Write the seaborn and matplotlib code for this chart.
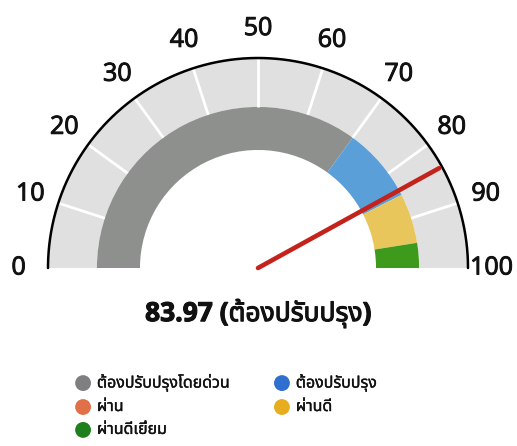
import numpy as np
import pandas as pd
import matplotlib
matplotlib.use("Agg")
import matplotlib.pyplot as plt
import matplotlib.patheffects as pe
import seaborn as sns
from matplotlib import font_manager
from matplotlib.ft2font import FT2Font
from matplotlib.patches import Wedge

# gauge data
value = 83.97
status = "ต้องปรับปรุง"
categories = ["ต้องปรับปรุงโดยด่วน", "ต้องปรับปรุง", "ผ่าน", "ผ่านดี", "ผ่านดีเยี่ยม"]
bounds = [0, 70, 85, 85, 95, 100]
band_colors = ["#8e908e", "#5b9fd9", "#e8774a", "#e9c65c", "#3d9a1c"]
legend_colors = ["#7f7f82", "#2f6fd0", "#e07048", "#e6ae1e", "#1e7f1e"]
tick_values = list(range(0, 101, 10))


def find_thai_font():
    found = []
    for f in font_manager.fontManager.ttflist:
        try:
            if ord("ก") in FT2Font(f.fname).get_charmap():
                found.append(f.name)
        except Exception:
            pass
    for pref in ["Noto Sans Thai", "Noto Sans Thai Looped", "Noto Serif Thai"]:
        if pref in found:
            return pref
    return found[0] if found else "DejaVu Sans"


def angle(v):
    # 0 -> left, 100 -> right
    return np.radians(180 - v * 1.8)


sns.set_theme(style="white")
thai = find_thai_font()
plt.rcParams["font.family"] = ["Open Sans", thai, "DejaVu Sans"]

fig = plt.figure(figsize=(5.17, 4.46), dpi=100)
ax = fig.add_axes([0, 0, 1, 1])
ax.set_xlim(-258 / 210, (517 - 258) / 210)
ax.set_ylim(-(446 - 268) / 210, 268 / 210)
ax.set_aspect("equal")

r_out, r_mid, r_in = 1.0, 0.767, 0.562

# light background band
ax.add_patch(Wedge((0, 0), r_out, 0, 180, width=r_out - r_mid, color="#e0e0e0", lw=0))

# coloured bands
for i, c in enumerate(band_colors):
    a, b = bounds[i], bounds[i + 1]
    if b > a:
        ax.add_patch(Wedge((0, 0), r_mid, 180 - b * 1.8, 180 - a * 1.8,
                           width=r_mid - r_in, color=c, lw=0))

# white tick marks
for v in tick_values[1:-1]:
    t = angle(v)
    ax.plot([r_mid * np.cos(t), r_out * np.cos(t)], [r_mid * np.sin(t), r_out * np.sin(t)],
            color="white", lw=2, solid_capstyle="butt")

# outer black arc
th = np.linspace(0, np.pi, 200)
ax.plot(np.cos(th), np.sin(th), color="black", lw=1.8)

# tick labels
bold_edge = [pe.withStroke(linewidth=0.7, foreground="#111111")]
for v in tick_values:
    t = angle(v)
    if v == 100:
        # sits right against the arc end
        ax.text(1.01, 0.0, str(v), ha="left", va="center", fontsize=18,
                color="#111111", path_effects=bold_edge)
    else:
        ax.text(1.14 * np.cos(t), 1.14 * np.sin(t), str(v), ha="center", va="center",
                fontsize=18, color="#111111", path_effects=bold_edge)

# needle
t = angle(value)
needle = pd.DataFrame({"x": [0, 0.985 * np.cos(t)], "y": [0, 0.985 * np.sin(t)]})
sns.lineplot(data=needle, x="x", y="y", ax=ax, color="#c3231b", lw=3.3,
             sort=False, estimator=None, solid_capstyle="round", zorder=5)

# value text
ax.text(0, -0.215, f"{value:.2f} ({status})", ha="center", va="center",
        fontsize=19, fontweight="bold", color="#111111",
        path_effects=[pe.withStroke(linewidth=0.8, foreground="#111111")])

# legend (two columns, filled by column)
col_x = [-0.833, 0.114]
row_y = [-0.548, -0.662, -0.771]
order = [0, 2, 4, 1, 3]
leg_x, leg_y = [], []
for k, idx in enumerate(order):
    leg_x.append(col_x[k // 3])
    leg_y.append(row_y[k % 3])
leg = pd.DataFrame({"x": leg_x, "y": leg_y, "cat": [categories[i] for i in order]})
sns.scatterplot(data=leg, x="x", y="y", hue="cat", palette=[legend_colors[i] for i in order],
                s=130, edgecolor="none", legend=False, ax=ax, zorder=6)
for (_, row) in leg.iterrows():
    ax.text(row["x"] + 0.066, row["y"], row["cat"], ha="left", va="center",
            fontsize=11.5, color="#111111", family=[thai, "DejaVu Sans"],
            path_effects=[pe.withStroke(linewidth=0.25, foreground="#111111")])
ax.axis("off")

fig.savefig("out.png", dpi=100)
